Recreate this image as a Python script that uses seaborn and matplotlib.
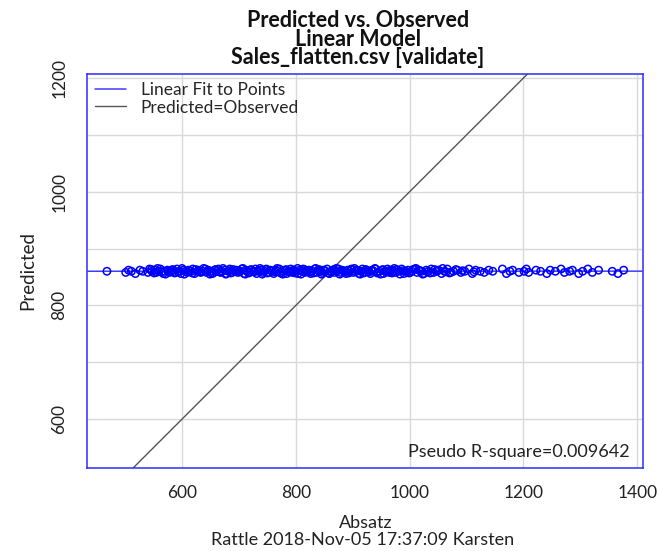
import matplotlib
matplotlib.use("Agg")
import matplotlib.pyplot as plt
import seaborn as sns
import numpy as np

# ---- data ----
observed_a = [
    468, 501, 506, 511, 518, 526, 531, 540, 543, 547,
    552, 555, 559, 562, 567, 569, 574, 578, 580, 585,
    588, 591, 596, 598, 602, 606, 609, 611, 616, 619,
    622, 627, 629, 633, 636, 641, 643, 646, 651, 653,
    657, 661, 664, 668, 670, 675, 678, 681, 684, 688,
    692, 695, 698, 702, 705, 709, 712, 714, 719, 722,
    725, 729, 731, 735, 739, 742, 745, 748, 752, 755,
    758, 761, 765, 768, 771, 775, 778, 781, 784, 787,
    791, 794, 797, 800, 804, 807, 810, 813, 816, 820,
    823, 826, 829, 833, 836, 839, 842, 846, 849, 852,
    855, 859, 862, 865, 868, 872, 875, 878, 881, 885,
    888, 891, 894, 898, 901, 904, 907, 911, 914, 917,
    921, 924, 927, 931, 934, 937, 940, 944, 947, 951,
    954, 957, 961, 964, 968, 971, 975, 979, 982, 986,
    990, 993, 997, 1001, 1004, 1009, 1013, 1016, 1021, 1025,
    1029, 1033, 1038, 1042, 1047, 1051, 1056, 1061, 1066, 1072,
    1077, 1084, 1090, 1097, 1104, 1110, 1116, 1124, 1131, 1139,
    1146, 1163, 1170, 1176, 1181, 1192, 1201, 1205, 1209, 1222,
    1230, 1241, 1247, 1256, 1266, 1272, 1281, 1286, 1297, 1304,
    1313, 1321, 1332, 1356, 1366, 1376,
]
predicted_a = [
    860, 858, 862, 860, 856, 862, 860, 858, 864, 860,
    862, 858, 860, 864, 856, 860, 862, 858, 860, 862,
    858, 864, 860, 856, 862, 860, 858, 862, 860, 864,
    856, 860, 862, 858, 860, 864, 858, 862, 860, 856,
    862, 860, 864, 858, 860, 862, 856, 860, 864, 858,
    860, 862, 858, 860, 864, 856, 862, 860, 858, 862,
    860, 864, 856, 860, 862, 858, 860, 864, 858, 862,
    860, 856, 862, 860, 864, 858, 860, 862, 856, 860,
    864, 858, 862, 860, 856, 862, 860, 864, 858, 860,
    862, 856, 860, 864, 858, 862, 860, 858, 862, 860,
    864, 856, 860, 862, 858, 860, 864, 858, 862, 860,
    856, 862, 860, 864, 858, 860, 862, 856, 860, 864,
    858, 862, 860, 856, 862, 860, 864, 858, 860, 862,
    856, 860, 864, 858, 862, 860, 858, 862, 860, 864,
    856, 860, 862, 858, 860, 864, 858, 862, 860, 856,
    862, 860, 864, 858, 860, 862, 856, 860, 864, 858,
    860, 862, 858, 860, 864, 856, 862, 860, 858, 862,
    860, 864, 856, 860, 862, 858, 860, 864, 858, 862,
    860, 856, 862, 860, 864, 858, 860, 862, 856, 860,
    864, 858, 862, 860, 856, 862,
]
observed_b = [
    546, 551, 557, 564, 571, 576, 583, 587, 593, 600,
    604, 613, 618, 624, 631, 638, 645, 649, 655, 659,
    666, 672, 677, 683, 686, 690, 697, 701, 707, 711,
    717, 721, 727, 733, 737, 741, 747, 750, 757, 763,
    767, 773, 777, 783, 789, 793, 799, 803, 809, 815,
    818, 825, 831, 835, 841, 845, 851, 857, 861, 867,
    871, 877, 883, 887, 893, 897, 903, 909, 913, 919,
    923, 929, 933, 939, 943, 949, 953, 959, 963, 969,
    973, 977, 983, 988, 995, 999, 1006, 1011, 1018, 1023,
    1031, 1036, 1044, 1049, 1058, 1064, 1070, 1081, 1093, 1113,
]
predicted_b = [
    863, 857, 865, 859, 855, 861, 863, 857, 859, 865,
    855, 861, 857, 863, 859, 865, 861, 855, 857, 863,
    859, 865, 855, 861, 857, 863, 861, 859, 865, 855,
    857, 863, 859, 861, 865, 855, 863, 857, 861, 859,
    865, 857, 855, 863, 859, 861, 857, 865, 855, 863,
    861, 859, 857, 865, 863, 855, 861, 857, 859, 863,
    865, 855, 861, 859, 857, 863, 865, 861, 855, 857,
    863, 859, 861, 865, 857, 855, 863, 859, 861, 857,
    865, 863, 855, 861, 859, 857, 863, 865, 861, 855,
    859, 857, 863, 861, 865, 859, 857, 863, 861, 859,
]
x_ticks = [600, 800, 1000, 1200, 1400]
y_ticks = [600, 700, 800, 900, 1000, 1100, 1200]
y_tick_labels = ["600", "", "800", "", "1000", "", "1200"]
title_text = "Predicted vs. Observed\nLinear Model\nSales_flatten.csv [validate]"
x_label = "Absatz"
sub_label = "Rattle 2018-Nov-05 17:37:09 Karsten"
y_label = "Predicted"
r_square_text = "Pseudo R-square=0.009642"

observed = observed_a + observed_b
predicted = predicted_a + predicted_b

sns.set_style("white")
plt.rcParams["font.family"] = ["Lato", "DejaVu Sans"]

W, H = 659, 551
fig = plt.figure(figsize=(W / 100, H / 100), dpi=100)
L, R, T, B = 87, 643, 74, 468
ax = fig.add_axes([L / W, 1 - B / H, (R - L) / W, (B - T) / H])

xlim = (433, 1410)
ylim = (514, 1207)
ax.set_xlim(xlim)
ax.set_ylim(ylim)

# grid
ax.set_xticks(x_ticks)
ax.set_yticks(y_ticks)
ax.set_yticklabels(y_tick_labels)
ax.grid(True, color="#d9d9d9", linewidth=1)
ax.set_axisbelow(True)

# identity line
ax.axline((0, 0), slope=1, color="#555555", linewidth=1, label="Predicted=Observed", zorder=2)

# linear fit line
sns.regplot(x=observed, y=predicted, scatter=False, ci=None, truncate=False, ax=ax,
            label="Linear Fit to Points",
            line_kws=dict(color="#3d3dff", linewidth=1.1, zorder=3))

# points
sns.scatterplot(x=observed, y=predicted, ax=ax, marker="o", s=28,
                facecolors="none", edgecolor="blue", linewidth=1.1, zorder=4)

ax.set_xlim(xlim)
ax.set_ylim(ylim)

for sp in ax.spines.values():
    sp.set_color("#2b2bff")
    sp.set_linewidth(1.1)
    sp.set_visible(True)

ax.tick_params(axis="both", which="both", direction="out", length=7, width=1,
               color="#555555", labelcolor="#222222", labelsize=12.5)
ax.tick_params(axis="x", pad=5)
ax.tick_params(axis="y", pad=7)
for lab in ax.get_yticklabels():
    lab.set_rotation(90)
    lab.set_va("center")

ax.set_xlabel("")
ax.set_ylabel("")

# legend
handles, labels = ax.get_legend_handles_labels()
order = [labels.index("Linear Fit to Points"), labels.index("Predicted=Observed")]
ax.legend([handles[i] for i in order], [labels[i] for i in order],
          loc="upper left", frameon=False, fontsize=12.5, handlelength=1.8,
          handletextpad=0.85, labelspacing=0.1, borderaxespad=0.25,
          borderpad=0.2)

ax.text((630 - L) / (R - L), (B - 452) / (B - T), r_square_text, transform=ax.transAxes,
        ha="right", va="center", fontsize=13, color="#222222")

fig.text(358 / W, 1 - 39 / H, title_text, ha="center", va="center",
         fontsize=15.5, fontweight="bold", linespacing=0.86, color="#111111")
fig.text(366 / W, 1 - 523 / H, x_label, ha="center", va="center", fontsize=13, color="#222222")
fig.text(363 / W, 1 - 540 / H, sub_label, ha="center", va="center", fontsize=13, color="#222222")
fig.text(28 / W, 1 - 270 / H, y_label, ha="center", va="center", rotation=90,
         fontsize=13.5, color="#222222")

fig.savefig("out.png", dpi=100)
